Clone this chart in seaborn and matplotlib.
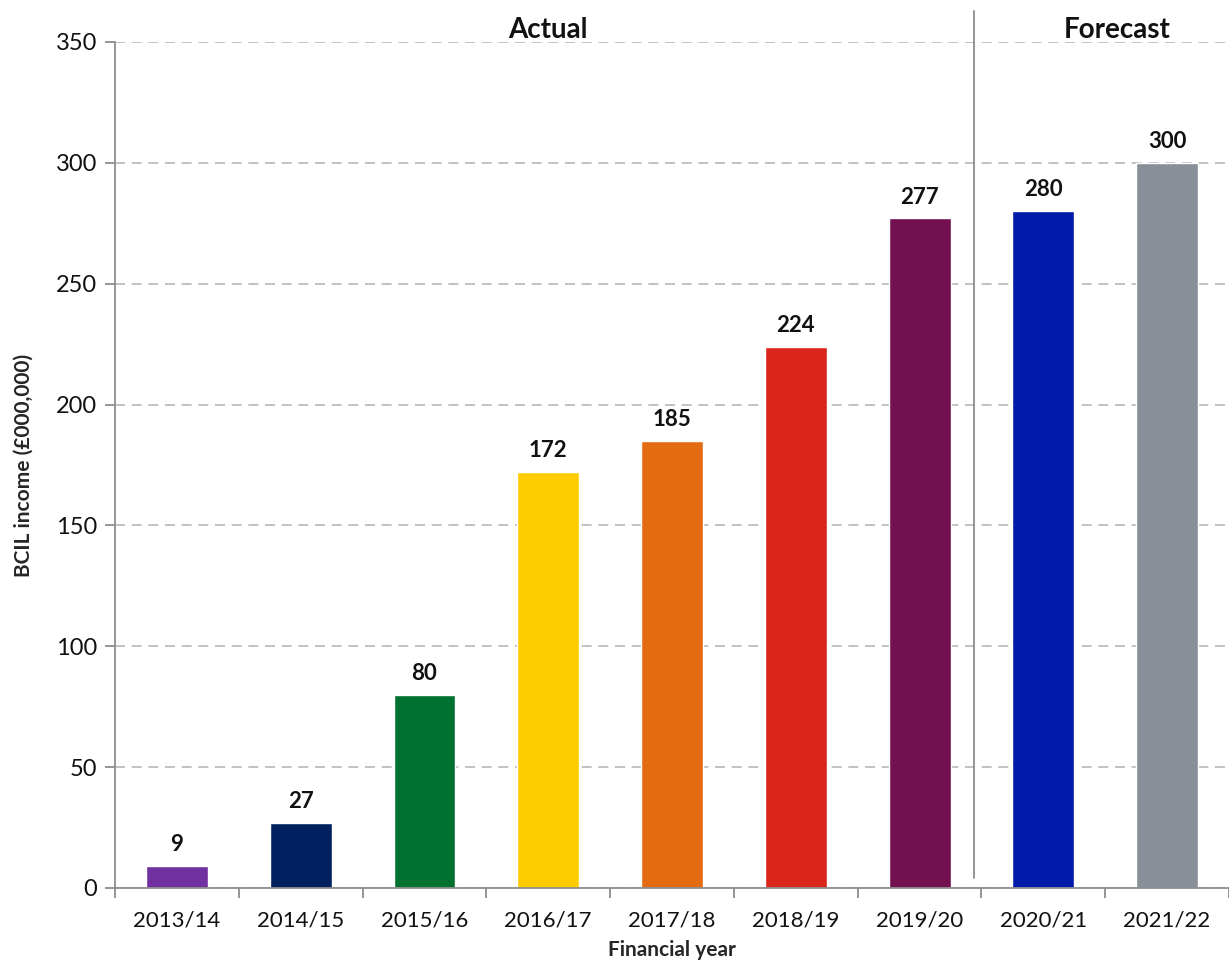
import matplotlib
matplotlib.use("Agg")
import matplotlib.pyplot as plt
from matplotlib.ticker import FixedLocator
import seaborn as sns
import pandas as pd

years = ["2013/14", "2014/15", "2015/16", "2016/17", "2017/18",
         "2018/19", "2019/20", "2020/21", "2021/22"]
income = [9, 27, 80, 172, 185, 224, 277, 280, 300]
colours = ["#7030A0", "#00205F", "#00712F", "#FFCC00", "#E56B12",
           "#DA251D", "#731050", "#001AAA", "#898F98"]
y_ticks = [0, 50, 100, 150, 200, 250, 300, 350]

df = pd.DataFrame({"year": years, "income": income})

sns.set_theme(style="white")
plt.rcParams["font.family"] = ["Lato", "DejaVu Sans"]

fig = plt.figure(figsize=(12.29, 9.65), dpi=100)
ax = fig.add_axes([0.0936, 0.0798, 0.9064, 0.8767])

sns.barplot(data=df, x="year", y="income", hue="year", palette=colours,
            width=0.5, legend=False, ax=ax, saturation=1)

ax.set_xlim(-0.5, len(years) - 0.5)
ax.set_ylim(0, 350)
ax.set_yticks(y_ticks)
ax.yaxis.grid(True, color="#B8B8B8", linestyle=(0, (6, 4)), linewidth=1.2)
ax.set_axisbelow(True)

for s in ["top", "right"]:
    ax.spines[s].set_visible(False)
for s in ["left", "bottom"]:
    ax.spines[s].set_color("#8C8C8C")
    ax.spines[s].set_linewidth(1.3)

ax.tick_params(axis="y", which="major", left=True, length=7, width=1.3,
               color="#8C8C8C", labelsize=17, pad=6, labelcolor="#111111")
ax.tick_params(axis="x", which="major", bottom=False, labelsize=16, pad=10,
               labelcolor="#111111")
ax.xaxis.set_minor_locator(FixedLocator([i + 0.5 for i in range(-1, len(years))]))
ax.tick_params(axis="x", which="minor", bottom=True, length=7, width=1.3,
               color="#8C8C8C")

for i, v in enumerate(income):
    ax.text(i, v + 4.5, f"{v}", ha="center", va="bottom", fontsize=16,
            fontweight="bold", color="#111111")

# divider between actual and forecast years
ax.plot([6.44, 6.44], [4, 363], color="#8C8C8C", linewidth=1.3,
        clip_on=False)
ax.text(3.0, 355, "Actual", ha="center", va="center", fontsize=20,
        fontweight="bold", color="#111111")
ax.text(7.6, 355, "Forecast", ha="center", va="center", fontsize=20,
        fontweight="bold", color="#111111")

ax.set_xlabel("Financial year", fontsize=15, fontweight="bold", labelpad=7)
ax.set_ylabel("BCIL income (£000,000)", fontsize=15, fontweight="bold",
              labelpad=16)

fig.savefig("out.png", dpi=100)
